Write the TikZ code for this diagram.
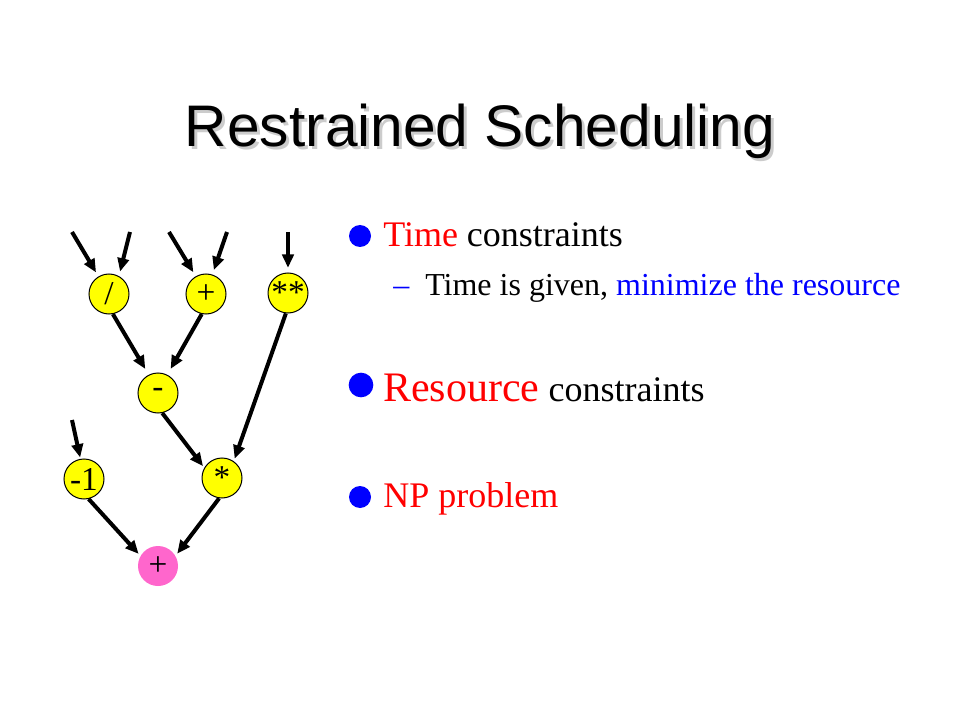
\documentclass[tikz,border=0pt]{standalone}
\usepackage{fontspec}
\setmainfont{Liberation Serif}
\newfontfamily\titlefont{Liberation Sans}
\usepackage{xcolor}
\usepackage{tikz}
\usetikzlibrary{arrows.meta}

\definecolor{opyellow}{RGB}{255,255,0}
\definecolor{oppink}{RGB}{255,102,204}

\begin{document}
\begin{tikzpicture}[
    x=0.75pt, y=-0.75pt,
    op/.style={circle, draw, line width=0.75pt, fill=opyellow, minimum size=30pt, inner sep=0pt, font=\fontsize{25}{25}\selectfont},
    result/.style={circle, fill=oppink, minimum size=30pt, inner sep=0pt, font=\fontsize{25}{25}\selectfont},
    bullet/.style={circle, fill=blue, inner sep=0pt, minimum size=16.5pt},
    item/.style={anchor=base west, inner sep=0pt, font=\fontsize{27}{32}\selectfont},
    subitem/.style={anchor=base west, inner sep=0pt, font=\fontsize{24}{28}\selectfont},
    heading/.style={anchor=base, inner sep=0pt, font=\titlefont\fontsize{44}{50}\selectfont},
    arrow/.style={line width=3pt, -{Triangle[length=10pt,width=8.5pt]}}
]
\useasboundingbox[fill=white] (0,0) rectangle (960,720);

% Title
\node[heading, text=black!20] (titleshadow) at (483,150) {Restrained Scheduling};
\node[heading] (title) at (480,147) {Restrained Scheduling};

% Operations
\node[op] (div) at (109,294) {/};
\node[op] (add) at (206,294) {+};
\node[op] (pow) at (288,293) {**};
\node[op] (sub) at (158,393) {-};
\node[op] (neg) at (84,479) {-1};
\node[op] (mul) at (222,478) {*};
\node[result] (sum) at (158,566) {+};

% Inputs
\coordinate (in1) at (72,232);
\coordinate (in2) at (130,232);
\coordinate (in3) at (169,232);
\coordinate (in4) at (227,232);
\coordinate (in5) at (288,232);
\coordinate (in6) at (72,420);

% Arrows
\draw[arrow, shorten >=3.5pt] (in1) -- (div.121);
\draw[arrow, shorten >=3.5pt] (in2) -- (div.61);
\draw[arrow, shorten >=3.5pt] (in3) -- (add.120);
\draw[arrow, shorten >=3.5pt] (in4) -- (add.72);
\draw[arrow, shorten >=3.5pt] (in5) -- (pow.90);
\draw[arrow, shorten >=1pt] (in6) -- (neg.100);
\draw[arrow, shorten >=5pt] (div.-79) -- (sub.117);
\draw[arrow, shorten >=5pt] (add.-102) -- (sub.63);
\draw[arrow, shorten >=2pt] (pow.-96) -- (mul.55);
\draw[arrow, shorten >=1.5pt] (sub.-78) -- (mul.150);
\draw[arrow, shorten >=2pt] (neg.-77) -- (sum.150);
\draw[arrow, shorten >=2pt] (mul.-98) -- (sum.30);

% Bullets
\node[bullet] (b1) at (360,236) {};
\node[item] (time) at (383,247) {\textcolor{red}{Time} constraints};
\node[subitem, text=blue] (dash) at (393,296) {--};
\node[subitem] (given) at (425,296) {Time is given, \textcolor{blue}{minimize the resource}};
\node[bullet, minimum size=18.5pt] (b2) at (361,385) {};
\node[item] (resource) at (383,401) {\textcolor{red}{\fontsize{31.5}{36}\selectfont Resource} constraints};
\node[bullet] (b3) at (360,497) {};
\node[item, text=red] (np) at (383,507) {NP problem};

\end{tikzpicture}
\end{document}
